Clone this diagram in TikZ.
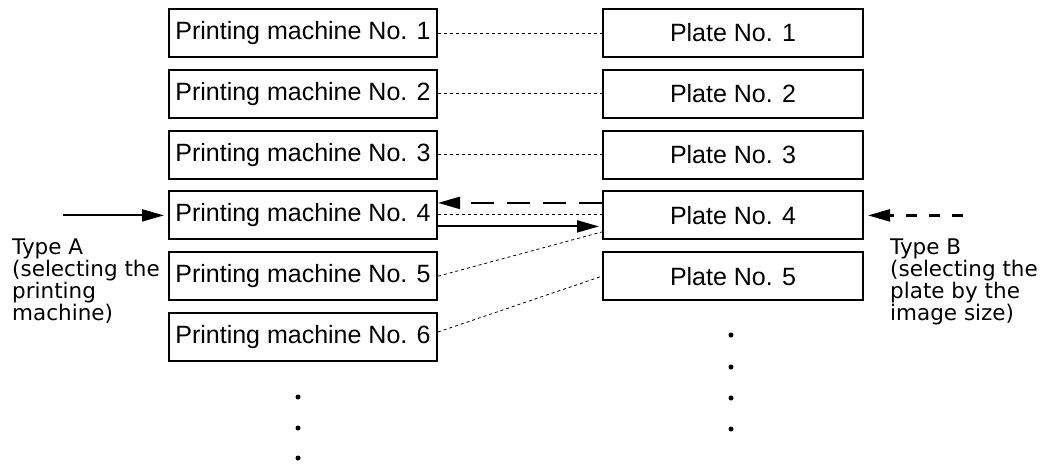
\documentclass[tikz,border=0pt]{standalone}
\usepackage{fontspec}
\setmainfont{Liberation Sans}
\newfontfamily\labfont{DejaVu Sans}
\usetikzlibrary{arrows.meta}
\tikzset{
  pm/.style={draw, line width=2pt, minimum width=268pt, minimum height=48pt, inner sep=0pt,
             font=\fontsize{25}{28}\selectfont},
  pl/.style={draw, line width=2pt, minimum width=260pt, minimum height=48pt, inner sep=0pt,
             font=\fontsize{25}{28}\selectfont},
  link/.style={line width=0.8pt, dash pattern=on 3pt off 3pt},
  tip/.style={-{Triangle[length=22pt,width=12pt]}},
  solidarrow/.style={tip, line width=2pt},
  dasharrow/.style={tip, line width=2.4pt, dash pattern=on 23pt off 13pt},
  sidelabel/.style={anchor=north west, inner sep=0pt, align=left,
             font=\labfont\fontsize{21.5}{22.2}\selectfont},
  dot/.style={circle, fill, inner sep=0pt, minimum size=5pt}
}
\begin{document}
\begin{tikzpicture}[x=1pt, y=-1pt]
\useasboundingbox (0,0) rectangle (1049,466);
% left column
\node[pm] (L1) at (303,33.0)  {Printing machine No. 1};
\node[pm] (L2) at (303,93.8)  {Printing machine No. 2};
\node[pm] (L3) at (303,154.6) {Printing machine No. 3};
\node[pm] (L4) at (303,215.4) {Printing machine No. 4};
\node[pm] (L5) at (303,276.2) {Printing machine No. 5};
\node[pm] (L6) at (303,337.0) {Printing machine No. 6};
% right column
\node[pl] (R1) at (733,33.0)  {Plate No. 1};
\node[pl] (R2) at (733,93.8)  {Plate No. 2};
\node[pl] (R3) at (733,154.6) {Plate No. 3};
\node[pl] (R4) at (733,215.4) {Plate No. 4};
\node[pl] (R5) at (733,276.2) {Plate No. 5};
% dots
\node[dot] (dl1) at (298,397) {};
\node[dot] (dl2) at (298,428) {};
\node[dot] (dl3) at (298,458) {};
\node[dot] (dr1) at (731,335) {};
\node[dot] (dr2) at (731,367) {};
\node[dot] (dr3) at (731,398) {};
\node[dot] (dr4) at (731,429) {};
% dotted links
\draw[link] (L1.east) -- (R1.west);
\draw[link] (L2.east) -- (R2.west);
\draw[link] (L3.east) -- (R3.west);
\draw[link] ([yshift=1pt]L4.east) -- ([yshift=1pt]R4.west);
\draw[link] (L5.east) -- ([yshift=-16.5pt]R4.west);
\draw[link] ([yshift=5pt]L6.east) -- (R5.west);
% row 4 arrows
\draw[dasharrow] ([yshift=12.5pt]R4.west) -- ([yshift=12.5pt]L4.east);
\draw[solidarrow, shorten >=3pt] ([yshift=-11pt]L4.east) -- ([yshift=-11pt]R4.west);
% side arrows
\coordinate (ta) at (63,215.4);
\coordinate (tb) at (963,215.4);
\draw[solidarrow, shorten >=4pt] (ta) -- (L4.west);
\draw[tip, line width=2.4pt, dash pattern=on 11pt off 12pt, shorten >=4pt] (tb) -- (R4.east);
% labels
\node[sidelabel] (la) at (12,238.5) {Type A\\(selecting the\\printing\\machine)};
\node[sidelabel] (lb) at (890,238.5) {Type B\\(selecting the\\plate by the\\image size)};
\end{tikzpicture}
\end{document}
